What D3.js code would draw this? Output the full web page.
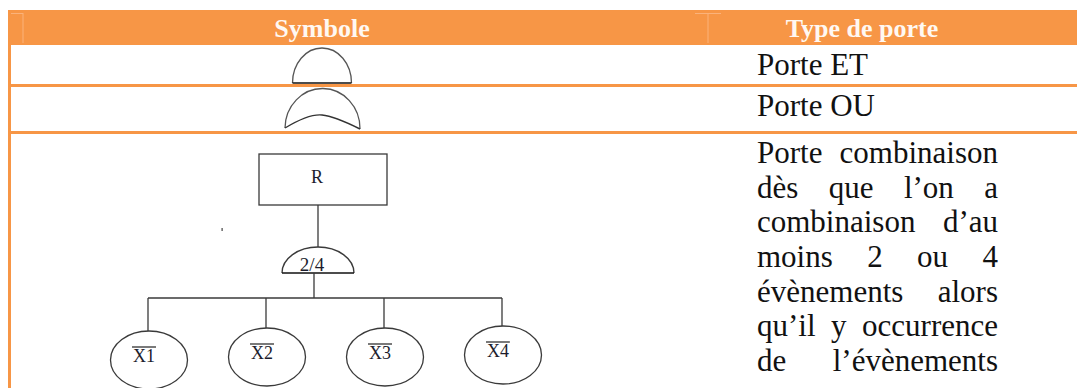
<!DOCTYPE html>
<html>
<head>
<meta charset="utf-8">
<script src="https://cdn.jsdelivr.net/npm/d3@7/dist/d3.min.js"></script>
<style>
  html, body { margin: 0; padding: 0; background: #fff; }
  svg { display: block; }
</style>
</head>
<body>
<script>
// ---- data ----
const columns = ["Symbole", "Type de porte"];
const gateTypes = ["Porte ET", "Porte OU"];
const descriptionLines = [
  "Porte combinaison",
  "dès que l’on a",
  "combinaison d’au",
  "moins 2 ou 4",
  "évènements alors",
  "qu’il y occurrence",
  "de l’évènements"
];
const topEvent = "R";
const voteLabel = "2/4";
const leafLabels = ["X1", "X2", "X3", "X4"];

// ---- layout ----
const W = 1077, H = 388;
const ORANGE = "#F79646";
const INK = "#3a3a3a";
const SERIF = '"Liberation Serif"';

const svg = d3.select("body").append("svg").attr("width", W).attr("height", H);

const colX = d3.scaleOrdinal().domain(columns).range([322, 862]);
const textLeft = 757, textRight = 998;

// header band
svg.append("rect").attr("x", 8).attr("y", 10).attr("width", W - 8).attr("height", 35).attr("fill", ORANGE);
const faint = "#fbb27a";
[23, 708].forEach((x, i) => {
  svg.append("line").attr("x1", x).attr("x2", x).attr("y1", 13).attr("y2", 43)
    .attr("stroke", faint).attr("stroke-width", 1);
  svg.append("line").attr("x1", i ? x - 13 : 11).attr("x2", i ? x + 13 : x).attr("y1", 13.5).attr("y2", 13.5)
    .attr("stroke", faint).attr("stroke-width", 1);
});
svg.append("rect").attr("x", 8).attr("y", 10).attr("width", 3).attr("height", H - 10).attr("fill", ORANGE);
const rowY = d3.scaleOrdinal().domain(gateTypes).range([84, 131]);
gateTypes.forEach(g => {
  svg.append("rect").attr("x", 8).attr("y", rowY(g)).attr("width", W - 8).attr("height", 3).attr("fill", ORANGE);
});

// header text
svg.selectAll("text.hdr").data(columns).join("text")
  .attr("class", "hdr")
  .attr("x", d => colX(d)).attr("y", 37)
  .attr("text-anchor", "middle")
  .style("font-family", SERIF).style("font-weight", "bold").style("font-size", "26px")
  .attr("fill", "#fff8f2")
  .text(d => d);

// gate type labels
const labelBase = d3.scaleOrdinal().domain(gateTypes).range([75, 116]);
svg.selectAll("text.gt").data(gateTypes).join("text")
  .attr("class", "gt")
  .attr("x", textLeft).attr("y", d => labelBase(d))
  .style("font-family", SERIF).style("font-size", "31px").attr("fill", "#111")
  .text(d => d);

// justified description
const lineY = d3.scaleLinear().domain([0, descriptionLines.length - 1]).range([163, 371]);
descriptionLines.forEach((line, i) => {
  const words = line.split(" ");
  const g = svg.append("g");
  const nodes = words.map(w => g.append("text")
    .style("font-family", SERIF).style("font-size", "31px").attr("fill", "#111")
    .attr("y", lineY(i)).text(w));
  const widths = nodes.map(n => n.node().getComputedTextLength());
  const total = d3.sum(widths);
  const gap = words.length > 1 ? (textRight - textLeft - total) / (words.length - 1) : 0;
  let x = textLeft;
  nodes.forEach((n, k) => { n.attr("x", x); x += widths[k] + gap; });
});

// ---- gate symbols ----
const cx = colX("Symbole");
svg.append("path")
  .attr("d", `M${cx - 29.5},83 A29.5,35 0 0 1 ${cx + 29.5},83`)
  .attr("fill", "none").attr("stroke", "#555").attr("stroke-width", 1.3);
svg.append("line").attr("x1", cx - 29.5).attr("x2", cx + 29.5).attr("y1", 83).attr("y2", 83)
  .attr("stroke", "#111").attr("stroke-width", 1.5);

svg.append("path")
  .attr("d", `M${cx - 37},128 A37.5,40 0 0 1 ${cx + 38},129`)
  .attr("fill", "none").attr("stroke", "#555").attr("stroke-width", 1.3);
svg.append("path")
  .attr("d", `M${cx - 37},128 C${cx - 22},119 ${cx - 10},114 ${cx},115 C${cx + 12},116 ${cx + 26},123 ${cx + 38},129`)
  .attr("fill", "none").attr("stroke", "#333").attr("stroke-width", 1.4);

// ---- vote gate fault tree ----
const tree = svg.append("g").attr("stroke", INK).attr("stroke-width", 1.3).attr("fill", "none");
tree.append("rect").attr("x", 259).attr("y", 154).attr("width", 128).attr("height", 51);
svg.append("text").attr("x", 317).attr("y", 183).attr("text-anchor", "middle")
  .style("font-family", SERIF).style("font-size", "18px").attr("fill", "#1c1c2c").text(topEvent);
tree.append("line").attr("x1", 318).attr("x2", 318).attr("y1", 205).attr("y2", 247);
tree.append("path").attr("d", "M282,273 A36,26 0 0 1 354,273");
tree.append("line").attr("x1", 282).attr("x2", 354).attr("y1", 273).attr("y2", 273).attr("stroke", "#111");
svg.append("text").attr("x", 312).attr("y", 271).attr("text-anchor", "middle")
  .style("font-family", SERIF).style("font-size", "19px").attr("fill", "#1c1c2c").text(voteLabel);
tree.append("line").attr("x1", 314).attr("x2", 314).attr("y1", 273).attr("y2", 298);

const leafX = d3.scalePoint().domain(leafLabels).range([148, 502]);
const leafTop = d3.scaleOrdinal().domain(leafLabels).range([331, 328, 328, 326]);
tree.append("line").attr("x1", leafX(leafLabels[0])).attr("x2", leafX(leafLabels[3]))
  .attr("y1", 298).attr("y2", 298);
leafLabels.forEach(l => {
  const x = leafX(l);
  tree.append("line").attr("x1", x).attr("x2", x).attr("y1", 298).attr("y2", leafTop(l));
  tree.append("ellipse").attr("cx", x + 1).attr("cy", leafTop(l) + 29).attr("rx", 38.5).attr("ry", 29);
  const t = svg.append("text").attr("x", x - 4).attr("y", leafTop(l) + 31)
    .attr("text-anchor", "middle").style("font-family", SERIF).style("font-size", "18px")
    .attr("fill", "#1c1c2c").text(l);
  const w = t.node().getComputedTextLength();
  svg.append("line").attr("x1", x - 4 - w / 2 - 1).attr("x2", x - 4 + w / 2 + 1)
    .attr("y1", leafTop(l) + 16).attr("y2", leafTop(l) + 16)
    .attr("stroke", "#222").attr("stroke-width", 1.2);
});
svg.append("rect").attr("x", 221.5).attr("y", 228).attr("width", 1.2).attr("height", 3).attr("fill", "#444");
</script>
</body>
</html>
